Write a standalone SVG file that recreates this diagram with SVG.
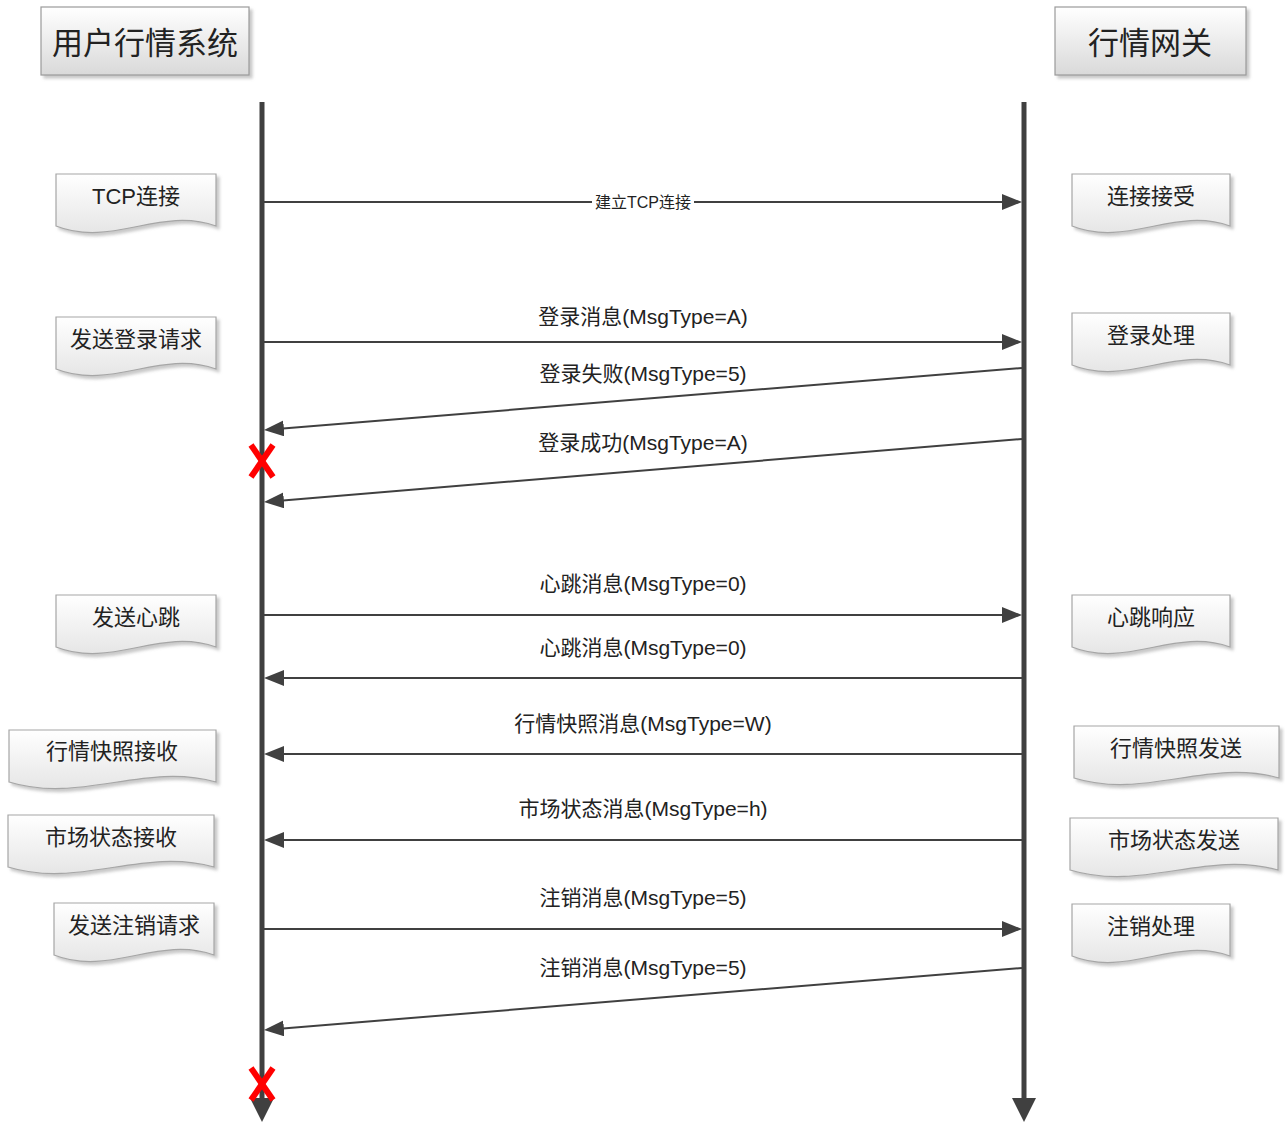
<svg xmlns="http://www.w3.org/2000/svg" width="1285" height="1124" viewBox="0 0 1285 1124">
<defs>
<linearGradient id="gHead" x1="0" y1="0" x2="0" y2="1"><stop offset="0" stop-color="#ffffff"/><stop offset="1" stop-color="#d9d9d9"/></linearGradient>
<linearGradient id="gDoc" x1="0" y1="0" x2="0" y2="1"><stop offset="0" stop-color="#ffffff"/><stop offset="1" stop-color="#e6e6e6"/></linearGradient>
<filter id="sh" x="-10%" y="-10%" width="130%" height="140%"><feDropShadow dx="3" dy="3" stdDeviation="1.5" flood-color="#888" flood-opacity="0.45"/></filter>
<marker id="ah" markerUnits="userSpaceOnUse" markerWidth="22" markerHeight="16" refX="4" refY="8" orient="auto"><path d="M0,0 L20,8 L0,16 Z" fill="#404040"/></marker>
<marker id="lh" markerUnits="userSpaceOnUse" markerWidth="26" markerHeight="26" refX="4" refY="12" orient="auto"><path d="M0,0 L24,12 L0,24 Z" fill="#404040"/></marker>
</defs>
<style>
.head{fill:url(#gHead);stroke:#9a9a9a;stroke-width:1.2;filter:url(#sh)}
.doc{fill:url(#gDoc);stroke:#a6a6a6;stroke-width:1.2;filter:url(#sh)}
.ht{font-family:"Noto Sans CJK SC","Liberation Sans",sans-serif;font-size:31px;fill:#222;text-anchor:middle;dominant-baseline:central}
.dt{font-family:"Liberation Sans","Noto Sans CJK SC",sans-serif;font-size:22px;fill:#222;text-anchor:middle;dominant-baseline:central}
.lt{font-family:"Liberation Sans","Noto Sans CJK SC",sans-serif;font-size:21px;fill:#222;text-anchor:middle;dominant-baseline:central}
.st{font-family:"Liberation Sans","Noto Sans CJK SC",sans-serif;font-size:16px;fill:#222;text-anchor:middle;dominant-baseline:central}
.life{stroke:#404040;stroke-width:5;fill:none;marker-end:url(#lh)}
.msg{stroke:#404040;stroke-width:2;fill:none;marker-end:url(#ah)}
.x{stroke:#ff0000;stroke-width:6;stroke-linecap:butt}
</style>

<g id="node-user">
<rect class="head" x="41" y="7" width="208" height="68"/>
<text class="ht" x="145" y="40">用户行情系统</text>
</g>
<g id="node-gateway">
<rect class="head" x="1055" y="7" width="191" height="68"/>
<text class="ht" x="1150" y="40">行情网关</text>
</g>

<g id="lifelines">
<line class="life" x1="262" y1="102" x2="262" y2="1102"/>
<line class="life" x1="1024" y1="102" x2="1024" y2="1102"/>
</g>

<g id="node-tcp"><path class="doc" d="M56,174 H216 V226 C160,206 112,248 56,226 Z"/><text class="dt" x="136" y="196">TCP连接</text></g>
<g id="node-login-req"><path class="doc" d="M56,317 H216 V369 C160,349 112,391 56,369 Z"/><text class="dt" x="136" y="339">发送登录请求</text></g>
<g id="node-hb-send"><path class="doc" d="M56,595 H216 V647 C160,627 112,669 56,647 Z"/><text class="dt" x="136" y="617">发送心跳</text></g>
<g id="node-snap-recv"><path class="doc" d="M9,730 H216 V782 C144,762 81,804 9,782 Z"/><text class="dt" x="112" y="751">行情快照接收</text></g>
<g id="node-mkt-recv"><path class="doc" d="M8,815 H214 V867 C142,847 80,889 8,867 Z"/><text class="dt" x="111" y="837">市场状态接收</text></g>
<g id="node-logout-req"><path class="doc" d="M54,903 H214 V955 C158,935 110,977 54,955 Z"/><text class="dt" x="134" y="925">发送注销请求</text></g>

<g id="node-accept"><path class="doc" d="M1072,174 H1230 V226 C1175,206 1127,248 1072,226 Z"/><text class="dt" x="1151" y="196">连接接受</text></g>
<g id="node-login-proc"><path class="doc" d="M1072,313 H1230 V365 C1175,345 1127,387 1072,365 Z"/><text class="dt" x="1151" y="335">登录处理</text></g>
<g id="node-hb-resp"><path class="doc" d="M1072,595 H1230 V647 C1175,627 1127,669 1072,647 Z"/><text class="dt" x="1151" y="617">心跳响应</text></g>
<g id="node-snap-send"><path class="doc" d="M1074,726 H1279 V778 C1207,758 1146,800 1074,778 Z"/><text class="dt" x="1176" y="748">行情快照发送</text></g>
<g id="node-mkt-send"><path class="doc" d="M1070,818 H1278 V870 C1205,850 1143,892 1070,870 Z"/><text class="dt" x="1174" y="840">市场状态发送</text></g>
<g id="node-logout-proc"><path class="doc" d="M1072,904 H1230 V956 C1175,936 1127,978 1072,956 Z"/><text class="dt" x="1151" y="926">注销处理</text></g>

<g id="connectors">
<line class="msg" x1="264" y1="202" x2="1006" y2="202"/>
<rect x="592" y="192" width="102" height="20" fill="#fff"/>
<text class="st" x="643" y="202">建立TCP连接</text>

<line class="msg" x1="264" y1="342" x2="1006" y2="342"/>
<text class="lt" x="643" y="316">登录消息(MsgType=A)</text>

<line class="msg" x1="1022" y1="368" x2="279.9" y2="428.7"/>
<text class="lt" x="643" y="373">登录失败(MsgType=5)</text>

<line class="msg" x1="1022" y1="439" x2="279.9" y2="500.7"/>
<text class="lt" x="643" y="442">登录成功(MsgType=A)</text>

<line class="msg" x1="264" y1="615" x2="1006" y2="615"/>
<text class="lt" x="643" y="583">心跳消息(MsgType=0)</text>

<line class="msg" x1="1022" y1="678" x2="280" y2="678"/>
<text class="lt" x="643" y="647">心跳消息(MsgType=0)</text>

<line class="msg" x1="1022" y1="754" x2="280" y2="754"/>
<text class="lt" x="643" y="723">行情快照消息(MsgType=W)</text>

<line class="msg" x1="1022" y1="840" x2="280" y2="840"/>
<text class="lt" x="643" y="808">市场状态消息(MsgType=h)</text>

<line class="msg" x1="264" y1="929" x2="1006" y2="929"/>
<text class="lt" x="643" y="897">注销消息(MsgType=5)</text>

<line class="msg" x1="1022" y1="968" x2="279.9" y2="1028.7"/>
<text class="lt" x="643" y="967">注销消息(MsgType=5)</text>
</g>

<g id="terminations">
<line class="x" x1="251" y1="445" x2="273" y2="477"/>
<line class="x" x1="273" y1="445" x2="251" y2="477"/>
<line class="x" x1="251" y1="1068" x2="273" y2="1100"/>
<line class="x" x1="273" y1="1068" x2="251" y2="1100"/>
</g>
</svg>
